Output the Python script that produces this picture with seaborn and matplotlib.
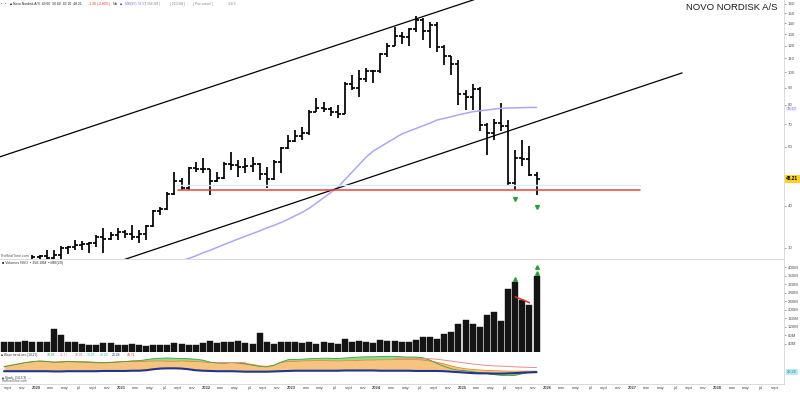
import numpy as np
import pandas as pd
import matplotlib
matplotlib.use("Agg")
import matplotlib.pyplot as plt
import matplotlib.transforms as mtrans
from matplotlib.ticker import FixedLocator, NullLocator
import seaborn as sns

sns.set_theme(style="white")
plt.rcParams['font.family'] = ['Liberation Sans', 'DejaVu Sans']

# ------------------------------------------------------------------ data
months = pd.period_range("2019-08", "2025-11", freq="M").strftime("%Y-%m").tolist()

opens = [24.6, 25.2, 25.3, 26.7, 27.6,
         28.2, 28.3, 28.0, 28.6, 30.0, 30.2, 30.5, 30.9, 31.1, 32.4, 31.8, 32.8,
         33.4, 33.0, 32.3, 33.0, 34.9, 38.6, 39.2, 43.5, 47.5, 45.2, 51.8, 51.7,
         51.4, 47.6, 48.5, 53.5, 53.0, 52.1, 52.5, 53.2, 49.8, 48.2, 54.0, 59.5,
         62.6, 64.5, 66.0, 76.0, 78.5, 77.5, 76.0, 75.0, 92.0, 90.0, 95.5, 101.0,
         100.8, 113.0, 119.8, 128.0, 127.0, 134.5, 142.7, 132.5, 138.5, 119.0, 111.5, 106.0,
         86.0, 84.5, 89.0, 69.5, 66.0, 70.5, 69.0, 46.8, 55.5, 55.2, 49.6]
highs = [25.6, 25.8, 26.9, 27.8, 28.5,
         28.6, 29.6, 29.6, 30.4, 30.4, 31.7, 31.5, 31.3, 32.8, 34.4, 33.5, 34.4,
         33.9, 35.1, 33.9, 35.1, 38.9, 39.7, 43.9, 50.5, 48.4, 52.2, 54.1, 55.6,
         51.6, 50.5, 54.1, 57.9, 54.8, 55.6, 56.0, 53.6, 52.2, 54.8, 59.9, 65.0,
         67.3, 68.7, 77.0, 83.8, 81.6, 78.9, 80.0, 93.8, 98.4, 101.9, 102.9, 101.9,
         114.2, 122.3, 136.6, 132.0, 135.7, 147.6, 145.6, 141.0, 141.5, 121.0, 111.8, 109.0,
         88.8, 92.0, 90.5, 70.6, 72.5, 81.0, 72.1, 58.7, 62.9, 60.5, 50.6]
lows = [23.6, 24.6, 24.7, 26.2, 27.2,
        27.4, 27.2, 24.5, 27.8, 28.8, 29.6, 29.6, 29.0, 30.2, 29.0, 31.7, 31.7,
        32.2, 31.7, 31.1, 31.7, 34.7, 37.6, 39.0, 43.1, 44.6, 44.6, 50.5, 50.1,
        43.1, 47.1, 48.1, 51.2, 48.8, 50.1, 50.5, 47.8, 45.2, 47.8, 50.1, 59.0,
        62.0, 62.9, 65.0, 76.0, 76.2, 74.1, 73.1, 75.0, 88.8, 84.7, 93.8, 93.2,
        99.8, 111.0, 119.6, 121.2, 119.6, 132.0, 125.0, 118.0, 115.0, 105.5, 98.5, 80.0,
        77.0, 77.0, 67.0, 56.8, 63.0, 67.0, 46.0, 44.6, 52.5, 49.0, 43.1]
closes = [25.2, 25.3, 26.7, 27.6, 28.2,
          28.3, 28.0, 28.6, 30.0, 30.2, 30.5, 30.9, 31.1, 32.4, 31.8, 32.8, 33.4,
          33.0, 32.3, 33.0, 34.9, 38.6, 39.2, 43.5, 47.5, 45.2, 51.8, 51.7, 51.4,
          47.6, 48.5, 53.5, 53.0, 52.1, 52.5, 53.2, 49.8, 48.2, 54.0, 59.5, 62.6,
          64.5, 66.0, 76.0, 78.5, 77.5, 76.0, 75.0, 92.0, 90.0, 95.5, 101.0, 100.8,
          113.0, 119.8, 128.0, 127.0, 134.5, 142.7, 132.5, 138.5, 119.0, 111.5, 106.0, 86.0,
          84.5, 89.0, 69.5, 66.0, 70.5, 69.0, 46.8, 55.5, 55.2, 49.6, 48.21]
volumes_m = [48, 48, 46, 50, 46,
             46, 45, 108, 80, 48, 48, 38, 35, 35, 41, 44, 35,
             34, 38, 34, 29, 35, 34, 34, 44, 36, 33, 33, 44,
             52, 41, 48, 48, 52, 44, 36, 91, 48, 40, 46, 46,
             46, 41, 45, 40, 48, 44, 40, 60, 45, 50, 45, 42,
             55, 50, 52, 48, 46, 55, 71, 71, 61, 85, 94, 132,
             151, 132, 118, 174, 188, 146, 296, 329, 245, 221, 358]

ma_months = pd.period_range("2021-09", "2025-11", freq="M").strftime("%Y-%m").tolist()
ma_values = [27.5, 27.9, 28.4, 29.0, 29.5, 30.1, 30.7, 31.3, 31.9, 32.5, 33.1, 33.7,
             34.4, 35.0, 35.7, 36.5, 37.4, 38.3, 39.4, 40.8, 42.3, 43.8, 45.4, 47.9,
             50.4, 53.1, 55.9, 58.3, 60.0, 61.8, 63.6, 65.5, 66.8, 68.0, 69.3, 70.6,
             72.1, 72.9, 73.8, 74.7, 75.5, 76.3, 76.8, 77.2, 77.7, 78.1, 78.3, 78.4,
             78.5, 78.6, 78.6]
ma_last_label = "78.57"
last_label = "48.21"

upper_channel_months = ["2019-07", "2025-03"]
upper_channel_prices = [55.2, 165.4]
lower_channel_months = ["2021-01", "2027-08"]
lower_channel_prices = [27.5, 99.6]
support_months = ["2021-09", "2027-02"]
support_price = 44.6
support_band_price = 46.2

signal_months = ["2025-08", "2025-11"]
signal_prices = [42.0, 39.7]
vol_signal_months = ["2025-08", "2025-11", "2025-11"]
vol_signal_values = [344, 372, 400]
vol_div_months = ["2025-08", "2025-10"]
vol_div_values = [260, 232]

ind_orange = [40, 45, 50, 55, 58,
              61, 60, 58, 60, 61, 60, 60, 59, 57, 56, 57, 59,
              60, 61, 60, 61, 62, 62, 61, 61, 62, 61, 60, 58,
              56, 55, 55, 56, 55, 52, 48, 42, 40, 45, 55, 60,
              61, 62, 63, 64, 64, 63, 62, 63, 64, 65, 66, 66,
              67, 67, 68, 68, 68, 68, 66, 62, 57, 50, 42, 35,
              30, 27, 25, 23, 22, 21, 20, 20, 20, 20, 20]
ind_green = [38, 44, 50, 56, 60,
             63, 61, 57, 58, 60, 59, 58, 57, 55, 55, 56, 58,
             60, 63, 64, 68, 72, 74, 75, 74, 73, 72, 70, 66,
             58, 54, 53, 56, 54, 50, 45, 40, 38, 44, 58, 68,
             69, 70, 72, 73, 74, 74, 73, 75, 77, 79, 80, 80,
             81, 82, 82, 80, 79, 79, 76, 66, 52, 40, 30, 24,
             22, 18, 14, 10, 6, 3, 1, 3, 10, 16, 19]
ind_base = [20, 20, 20, 20, 20,
            20, 20, 19, 19, 20, 20, 20, 20, 20, 21, 21, 21,
            21, 22, 22, 24, 28, 31, 32, 32, 31, 28, 24, 22,
            21, 20, 20, 20, 19, 18, 18, 18, 18, 19, 20, 21,
            22, 22, 22, 22, 22, 22, 22, 23, 23, 23, 23, 23,
            22, 22, 22, 22, 22, 21, 21, 21, 21, 20, 18, 16,
            14, 12, 11, 11, 10, 10, 11, 12, 14, 15, 16]
N = np.nan
ind_pink = [N, N, N, N, N,
            N, N, N, N, N, N, N, N, N, N, N, N,
            N, N, N, N, N, N, N, N, N, N, N, N,
            N, 55, 56, 56, 56, 57, N, N, N, N, N, N,
            N, N, N, N, N, N, N, N, N, N, N, N,
            N, N, 74, 74, 74, 73, 73, 72, 70, 66, 62, 58,
            54, 50, 47, 44, 42, 41, 40, 38, 37, 36, 35]

price_ticks = [30, 40, 60, 70, 80, 90, 100, 110, 120, 130, 140, 150, 160]
volume_ticks = [40, 80, 120, 160, 200, 240, 280, 320, 360, 400]
month_names = {1: None, 3: "mar", 5: "may", 7: "jul", 9: "sept", 11: "nov"}


def mpos(label):
    y, m = map(int, label.split("-"))
    return (y - 2020) * 12 + (m - 1)


xs = np.array([mpos(m) + 0.5 for m in months])

# ------------------------------------------------------------------ layout
W, H = 800, 393
RIGHT = 784
fig = plt.figure(figsize=(W / 100, H / 100), dpi=100)


def ax_at(top, bottom, **kw):
    return fig.add_axes([0, 1 - bottom / H, RIGHT / W, (bottom - top) / H], **kw)


ax_p = ax_at(0, 259)
ax_v = ax_at(260, 352, sharex=ax_p)
ax_i = ax_at(352, 376, sharex=ax_p)
ax_s = ax_at(376, 384, sharex=ax_p)

XMIN, XMAX = -36 / 7.1, (RIGHT - 36) / 7.1
GRID = '#d4d4d4'
for a in (ax_p, ax_v, ax_i, ax_s):
    a.set_facecolor('white')
    for s in a.spines.values():
        s.set_visible(False)
    a.spines['right'].set_visible(True)
    a.spines['right'].set_color(GRID)
    a.spines['right'].set_linewidth(0.6)
    a.spines['bottom'].set_visible(True)
    a.spines['bottom'].set_color(GRID)
    a.spines['bottom'].set_linewidth(0.6)
    a.tick_params(axis='x', bottom=False, labelbottom=False, length=0)
    a.yaxis.tick_right()
    a.tick_params(axis='y', which='both', labelsize=3.2, pad=1.2, length=1.5,
                  width=0.4, colors='#555555', labelcolor='#555555')

# ------------------------------------------------------------------ price panel
ax_p.set_yscale('log')
ax_p.vlines(xs, lows, highs, color='black', lw=1.25)
ax_p.hlines(opens, xs - 0.42, xs, color='black', lw=1.25)
ax_p.hlines(closes, xs, xs + 0.42, color='black', lw=1.25)

sns.lineplot(x=[mpos(m) + 0.5 for m in ma_months], y=ma_values, ax=ax_p,
             color='#a9a9f2', lw=1.1, legend=False)
sns.lineplot(x=[mpos(m) for m in upper_channel_months], y=upper_channel_prices, ax=ax_p,
             color='black', lw=0.9, legend=False)
sns.lineplot(x=[mpos(m) for m in lower_channel_months], y=lower_channel_prices, ax=ax_p,
             color='black', lw=0.9, legend=False)
sx = [mpos(m) for m in support_months]
ax_p.plot(sx, [support_band_price] * 2, color='#d6ecf5', lw=1.0)
ax_p.plot(sx, [support_price] * 2, color='#e8453c', lw=1.1)
ax_p.plot([mpos(m) + 0.5 for m in signal_months], signal_prices, ls='none',
          marker='v', ms=2.8, color='#2e9e3a', mec='#2e9e3a')

ax_p.set_ylim(27.8, 164.2)
ax_p.yaxis.set_major_locator(FixedLocator(price_ticks))
ax_p.yaxis.set_minor_locator(NullLocator())
ax_p.set_yticklabels([str(t) for t in price_ticks])
ax_p.set_xlim(XMIN, XMAX)

trans_p = mtrans.blended_transform_factory(ax_p.transAxes, ax_p.transData)
ax_p.text(1.003, closes[-1], last_label, transform=trans_p, ha='left', va='center',
          fontsize=3.4, fontweight='bold', color='black', clip_on=False,
          bbox=dict(boxstyle='square,pad=0.3', fc='#ffd21f', ec='none'))
trans_ma = mtrans.offset_copy(trans_p, fig=fig, x=0, y=-1.5, units='dots')
ax_p.text(1.003, ma_values[-1], ma_last_label, transform=trans_ma, ha='left', va='center',
          fontsize=2.9, color='#6f6fe0', clip_on=False,
          bbox=dict(boxstyle='square,pad=0.1', fc='#ececff', ec='none'))

# ------------------------------------------------------------------ volume panel
ax_v.bar(xs, volumes_m, width=0.84, color='#141414', edgecolor='#141414', linewidth=0.3)
ax_v.plot([mpos(m) + 0.5 for m in vol_div_months], vol_div_values, color='#e0302c', lw=1.1)
ax_v.plot([mpos(m) + 0.5 for m in vol_signal_months], vol_signal_values, ls='none',
          marker='^', ms=2.6, color='#2e9e3a', mec='#2e9e3a')
ax_v.set_ylim(0, 433)
ax_v.yaxis.set_major_locator(FixedLocator(volume_ticks))
ax_v.set_yticklabels([f"{t}M" for t in volume_ticks])

# ------------------------------------------------------------------ indicator panel
o = np.array(ind_orange, float)
g = np.array(ind_green, float)
b = np.array(ind_base, float)
ax_i.fill_between(xs, b, o, color='#f7c47f', lw=0)
ax_i.fill_between(xs, o, g, where=g > o, interpolate=True, color='#95d98c', lw=0)
ax_i.fill_between(xs, g, b, where=g < b, interpolate=True, color='#95d98c', lw=0)
ax_i.plot(xs, o, color='#e98b2a', lw=0.7)
ax_i.plot(xs, g, color='#3aa046', lw=0.6)
ax_i.plot(xs, ind_pink, color='#f08a8a', lw=0.7)
ax_i.plot(xs, b, color='#23348f', lw=1.5)
ax_i.set_ylim(0, 100)
ax_i.set_yticks([])
trans_i = mtrans.blended_transform_factory(ax_i.transAxes, ax_i.transData)
ax_i.text(1.004, 18, "20.28", transform=trans_i, ha='left', va='center', fontsize=2.8,
          color='#1f6f8f', clip_on=False,
          bbox=dict(boxstyle='square,pad=0.25', fc='#b8ecf2', ec='none'))

# ------------------------------------------------------------------ bottom panel + x axis
ax_s.set_ylim(0, 1)
ax_s.set_yticks([])
tick_pos, tick_lab = [], []
for k in range(-4, 105):
    m = (k % 12) + 1
    if m in month_names:
        tick_pos.append(k)
        tick_lab.append(str(2020 + k // 12) if m == 1 else month_names[m])
ax_s.set_xticks(tick_pos)
ax_s.set_xticklabels(tick_lab)
ax_s.tick_params(axis='x', labelbottom=True, bottom=False, length=0, labelsize=3.0,
                 pad=1.5, labelcolor='#444444')
for lab in ax_s.get_xticklabels():
    if lab.get_text().isdigit():
        lab.set_fontweight('bold')
ax_s.set_xlim(XMIN, XMAX)

# ------------------------------------------------------------------ texts
fig.text(777 / W, 1 - 8 / H, "NOVO NORDISK A/S", ha='right', va='center',
         fontsize=6.8, color='#1a1a1a')


def ftxt(px, py, s, color='#333333', size=2.9, **kw):
    fig.text(px / W, 1 - py / H, s, ha='left', va='center', fontsize=size, color=color, **kw)


ftxt(1, 4, "▪", color='#e0302c', size=2.6)
ftxt(5, 4, "▪", color='#3aa046', size=2.6)
ftxt(10, 4, "■ Novo Nordisk A/S  49.60  50.60  43.10  48.21", color='#222222', size=2.4)
ftxt(88, 4, "-1.39 (-2.80%)", color='#e0302c', size=2.4)
ftxt(113, 4, "MA", color='#555555', size=2.4)
ftxt(120, 4, "■", color='#2233cc', size=2.4)
ftxt(125, 4, "MM(40) 78.57", color='#7b7be6', size=2.4)
ftxt(145, 4, "| 358.2M |", color='#888888', size=2.4)
ftxt(170, 4, "| 210.5M |", color='#888888', size=2.4)
ftxt(193, 4, "| Prix actuel |", color='#888888', size=2.4)
ftxt(228, 4, "718.9", color='#888888', size=2.4)
ftxt(1, 256, "ProRealTime.com", color='#555555', size=2.6)
ftxt(2, 263, "■ Volumes NVO  ▪ 358.18M  ▪ MM(20)", color='#333333', size=2.6)
ftxt(1, 355, "■ Wave trend osc.(10,21)", color='#333333', size=2.3)
ftxt(47, 355, "10.95", color='#3aa046', size=2.4)
ftxt(60, 355, "11.17", color='#f08a8a', size=2.4)
ftxt(75, 355, "10.91", color='#888888', size=2.4)
ftxt(87, 355, "13.07", color='#29b6c8', size=2.4)
ftxt(100, 355, "20.28", color='#29b6c8', size=2.4)
ftxt(112, 355, "20.28", color='#23348f', size=2.4)
ftxt(127, 355, "48.71", color='#e0302c', size=2.4)
ftxt(2, 378.5, "■ Stoch. (14,3,3)  ...", color='#333333', size=2.3)
ftxt(2, 381.5, "ProRealTime.com", color='#555555', size=2.3)

fig.savefig("out.png", dpi=100, facecolor='white')
